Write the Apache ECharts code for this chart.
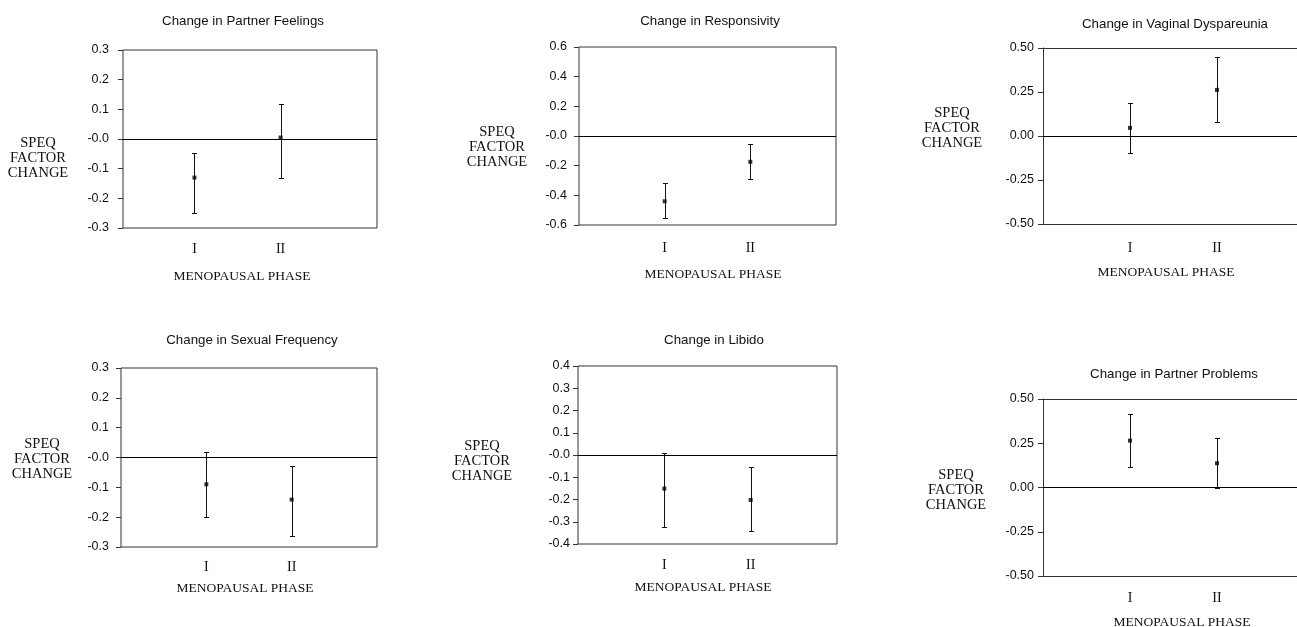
<!DOCTYPE html>
<html>
<head>
<meta charset="utf-8">
<script src="https://cdn.jsdelivr.net/npm/echarts@6/dist/echarts.min.js"></script>
<style>
html,body{margin:0;padding:0;background:#fff;overflow:hidden;}
#chart{width:1297px;height:627px;}
</style>
</head>
<body>
<div id="chart"></div>
<script>
// ---- data ----
const phases = ['I', 'II'];
const panelTitles = ['Change in Partner Feelings', 'Change in Responsivity', 'Change in Vaginal Dyspareunia',
                     'Change in Sexual Frequency', 'Change in Libido', 'Change in Partner Problems'];
const yLabel = 'SPEQ\nFACTOR\nCHANGE';
const xLabel = 'MENOPAUSAL PHASE';

const feelingsMean = [-0.130, 0.005];
const feelingsLow  = [-0.250, -0.131];
const feelingsHigh = [-0.047, 0.117];

const responsivityMean = [-0.440, -0.174];
const responsivityLow  = [-0.556, -0.293];
const responsivityHigh = [-0.316, -0.052];

const dyspareuniaMean = [0.046, 0.262];
const dyspareuniaLow  = [-0.095, 0.080];
const dyspareuniaHigh = [0.187, 0.451];

const frequencyMean = [-0.090, -0.141];
const frequencyLow  = [-0.200, -0.262];
const frequencyHigh = [0.019, -0.030];

const libidoMean = [-0.151, -0.202];
const libidoLow  = [-0.322, -0.342];
const libidoHigh = [0.010, -0.052];

const problemsMean = [0.265, 0.137];
const problemsLow  = [0.114, -0.005];
const problemsHigh = [0.418, 0.281];

// y-axis ranges (tick labels)
const yRanges = [[-0.3, 0.3, 0.1], [-0.6, 0.6, 0.2], [-0.5, 0.5, 0.25],
                 [-0.3, 0.3, 0.1], [-0.4, 0.4, 0.1], [-0.5, 0.5, 0.25]];
const yDecimals = [1, 1, 2, 1, 1, 2];

// ---- layout (pixels) ----  open: right side of the frame is cut off by the page edge
const layout = [
  {grid:[123,50,254,178], xr:[0.17,3.12], title:[243,21], yl:[38,158], xl:[242,276], lm:14, ym:14},
  {grid:[579,47,257,178], xr:[0,3], title:[710,21], yl:[497,147], xl:[713,274], lm:16, ym:12},
  {grid:[1043,48,254,176], xr:[0,2.92], title:[1175,24], yl:[952,128], xl:[1166,272], lm:17, ym:9, open:true},
  {grid:[121,368,256,179], xr:[0,3], title:[252,340], yl:[42,459], xl:[245,588], lm:13, ym:12},
  {grid:[578,366,259,178], xr:[0,3], title:[714,340], yl:[482,461], xl:[703,587], lm:14, ym:8},
  {grid:[1043,399,254,177], xr:[0,2.92], title:[1174,374], yl:[956,490], xl:[1182,622], lm:15, ym:9, open:true}
];

const panelData = [
  [feelingsMean, feelingsLow, feelingsHigh],
  [responsivityMean, responsivityLow, responsivityHigh],
  [dyspareuniaMean, dyspareuniaLow, dyspareuniaHigh],
  [frequencyMean, frequencyLow, frequencyHigh],
  [libidoMean, libidoLow, libidoHigh],
  [problemsMean, problemsLow, problemsHigh]
];

const SANS = '"Liberation Sans", Arial, sans-serif';
const SERIF = '"Liberation Serif", "Times New Roman", serif';
const INK = '#111';
const FRAME = '#333';

const grids = [], xAxes = [], yAxes = [], series = [], graphics = [];

layout.forEach((L, i) => {
  const [gl, gt, gw, gh] = L.grid;
  const open = !!L.open;
  grids.push({left: gl, top: gt, width: gw, height: gh, show: !open,
              borderColor: FRAME, borderWidth: 1, containLabel: false});
  const xIndex = xAxes.length;
  xAxes.push({
    gridIndex: i, type: 'value', position: 'bottom', min: L.xr[0], max: L.xr[1],
    axisLine: {show: open, onZero: false, lineStyle: {color: FRAME, width: 1}},
    axisTick: {show: false}, splitLine: {show: false},
    axisLabel: {customValues: [1, 2], formatter: v => phases[Math.round(v) - 1] || '',
                fontFamily: SERIF, fontSize: 14, color: INK, margin: L.lm}
  });
  if (open) {
    // top edge of the frame
    xAxes.push({
      gridIndex: i, type: 'value', position: 'top', min: L.xr[0], max: L.xr[1],
      axisLine: {show: true, onZero: false, lineStyle: {color: FRAME, width: 1}},
      axisTick: {show: false}, axisLabel: {show: false}, splitLine: {show: false}
    });
  }
  const [ymin, ymax, ystep] = yRanges[i];
  const dec = yDecimals[i];
  yAxes.push({
    gridIndex: i, type: 'value', min: ymin, max: ymax, interval: ystep,
    axisLine: {show: open, onZero: false, lineStyle: {color: FRAME, width: 1}},
    axisTick: {show: true, length: 5, inside: false, lineStyle: {color: FRAME}},
    splitLine: {show: false},
    axisLabel: {fontFamily: SANS, fontSize: 12.5, color: INK, margin: L.ym,
      formatter: v => {
        if (Math.abs(v) < 1e-9) return dec === 1 ? '-0.0' : '0.00';
        return v.toFixed(dec);
      }}
  });
  const [mean, low, high] = panelData[i];
  series.push({
    type: 'custom', xAxisIndex: xIndex, yAxisIndex: i, silent: true,
    data: phases.map((p, k) => [k + 1, low[k], high[k]]),
    encode: {x: 0, y: [1, 2]},
    renderItem: (params, api) => {
      const a = api.coord([api.value(0), api.value(1)]);
      const b = api.coord([api.value(0), api.value(2)]);
      const x = Math.round(a[0]) + 0.5;
      const y1 = Math.round(a[1]) + 0.5, y2 = Math.round(b[1]) + 0.5;
      const st = {stroke: INK, lineWidth: 1};
      return {type: 'group', children: [
        {type: 'line', shape: {x1: x, y1: y1, x2: x, y2: y2}, style: st},
        {type: 'line', shape: {x1: x - 2.5, y1: y1, x2: x + 2.5, y2: y1}, style: st},
        {type: 'line', shape: {x1: x - 2.5, y1: y2, x2: x + 2.5, y2: y2}, style: st}
      ]};
    }
  });
  series.push({
    type: 'scatter', xAxisIndex: xIndex, yAxisIndex: i, silent: true,
    symbol: 'rect', symbolSize: 4, itemStyle: {color: '#000'},
    data: phases.map((p, k) => [k + 1, mean[k]]),
    markLine: {silent: true, symbol: ['none', 'none'], label: {show: false},
               lineStyle: {color: '#000', type: 'solid', width: 1},
               data: [{yAxis: 0}]},
    z: 5
  });
  graphics.push({type: 'text', x: L.title[0], y: L.title[1],
    style: {text: panelTitles[i], font: '13.3px ' + SANS, fill: INK, align: 'center', verticalAlign: 'middle'}});
  graphics.push({type: 'text', x: L.yl[0], y: L.yl[1],
    style: {text: yLabel, font: '14.5px ' + SERIF, fill: INK, align: 'center', verticalAlign: 'middle', lineHeight: 15}});
  graphics.push({type: 'text', x: L.xl[0], y: L.xl[1],
    style: {text: xLabel, font: '13.5px ' + SERIF, fill: INK, align: 'center', verticalAlign: 'middle'}});
});

const chart = echarts.init(document.getElementById('chart'), null, {renderer: 'canvas'});
chart.setOption({
  backgroundColor: '#fff',
  animation: false,
  grid: grids, xAxis: xAxes, yAxis: yAxes, series: series, graphic: graphics
});
</script>
</body>
</html>
